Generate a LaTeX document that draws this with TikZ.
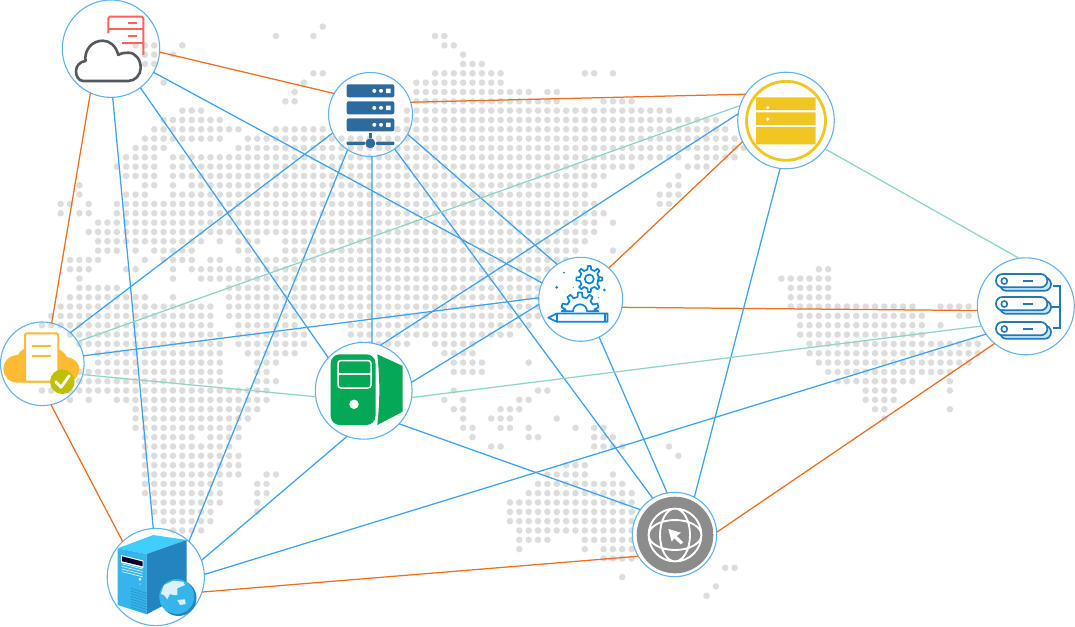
\documentclass[tikz,border=0pt]{standalone}
\definecolor{dotc}{HTML}{DDDDDD}
\definecolor{edgeblue}{HTML}{3DA2F2}
\definecolor{edgeorange}{HTML}{EE6E1E}
\definecolor{edgeteal}{HTML}{8ED5C8}
\definecolor{ringblue}{HTML}{62B2F2}
\definecolor{redicon}{HTML}{FF625A}
\definecolor{greyicon}{HTML}{54595E}
\definecolor{navyicon}{HTML}{2F6A9C}
\definecolor{gearblue}{HTML}{0B85D8}
\definecolor{yellowicon}{HTML}{F2C620}
\definecolor{diskblue}{HTML}{1F7AB8}
\definecolor{disklight}{HTML}{CFE6F7}
\definecolor{cloudyellow}{HTML}{FDBA33}
\definecolor{checkgreen}{HTML}{BFBF06}
\definecolor{servergreen}{HTML}{05A855}
\definecolor{topcyan}{HTML}{3ECFFF}
\definecolor{frontblue}{HTML}{35B5EC}
\definecolor{sideblue}{HTML}{2484BF}
\definecolor{globegrey}{HTML}{8C8C8C}
\tikzset{
  hub/.style={circle,draw=ringblue,line width=1.1pt,inner sep=0pt,outer sep=0pt},
  filledhub/.style={hub,fill=white},
  blueedge/.style={draw=edgeblue,line width=1.25pt},
  orangeedge/.style={draw=edgeorange,line width=1.25pt},
  tealedge/.style={draw=edgeteal,line width=1.25pt},
  gearline/.style={draw=gearblue,line width=1.7pt,line join=round},
  pill/.style={draw=diskblue,line width=1.7pt,rounded corners=6.5pt},
}
\newcommand\dotrow[2]{\foreach \a/\b in {#2}{\foreach \i in {\a,...,\b}{\fill[dotc] ({4.5+9.36*\i},{8+9.33*#1}) circle (3.3);}}}
\newcommand\gearfull[6]{% cx cy rin rout n start
  \draw[gearline] ({#1+#3*cos(#6-90/#5)},{#2+#3*sin(#6-90/#5)})
  \foreach \k [evaluate=\k as \t using #6+\k*360/#5] in {1,...,#5}{
    -- ({#1+#3*cos(\t-90/#5)},{#2+#3*sin(\t-90/#5)})
    -- ({#1+#4*cos(\t-54/#5)},{#2+#4*sin(\t-54/#5)})
    -- ({#1+#4*cos(\t+54/#5)},{#2+#4*sin(\t+54/#5)})
    -- ({#1+#3*cos(\t+90/#5)},{#2+#3*sin(\t+90/#5)})
  } -- cycle;}
\newcommand\diskrow[1]{%
  \draw[pill,fill=disklight] (1000,#1+3.5) rectangle (1051,#1+16.8);
  \draw[pill,fill=white] (996,#1) rectangle (1047.3,#1+13.3);
  \draw[diskblue,line width=1.6pt] (1004.3,#1+7) circle (3);
  \draw[diskblue,line width=1.8pt] (1022.7,#1+7) -- (1032.7,#1+7);}
\begin{document}
\begin{tikzpicture}[x=1pt,y=-1pt]
\useasboundingbox (0,0) rectangle (1075,626);
% dotted world map
\dotrow{2}{34/34}
\dotrow{3}{29/29,33/33,46/47}
\dotrow{4}{14/16,19/19,47/48}
\dotrow{5}{15/16,18/18,49/49}
\dotrow{6}{15/16,49/51}
\dotrow{7}{33/34,46/53,62/63,65/65}
\dotrow{8}{17/17,32/32,44/53}
\dotrow{9}{31/31,44/56,58/59}
\dotrow{10}{30/31,44/59,64/67}
\dotrow{11}{19/21,43/71}
\dotrow{12}{17/23,43/76}
\dotrow{13}{16/25,29/34,42/77}
\dotrow{14}{15/23,26/79}
\dotrow{15}{14/17,25/79}
\dotrow{16}{13/16,18/72,74/78}
\dotrow{17}{12/16,18/67,73/75}
\dotrow{18}{13/16,18/64,72/72}
\dotrow{19}{8/8,15/16,18/18,20/63,71/72}
\dotrow{20}{8/8,13/15,18/62,70/72}
\dotrow{21}{6/7,9/9,12/63,70/71}
\dotrow{22}{6/6,8/9,12/64}
\dotrow{23}{10/63,65/65}
\dotrow{24}{9/63}
\dotrow{25}{10/21,23/23,25/27,30/62}
\dotrow{26}{10/12,14/14,16/20,25/26,30/61,65/65}
\dotrow{27}{7/10,15/15,17/20,22/23,26/60}
\dotrow{28}{7/9,13/14,18/18,20/60,87/88}
\dotrow{29}{8/8,18/18,21/60,83/88}
\dotrow{30}{8/12,24/60,84/88}
\dotrow{31}{7/15,18/18,24/60,84/88}
\dotrow{32}{6/22,24/59,84/97,100/103}
\dotrow{33}{5/22,24/59,85/98,102/103}
\dotrow{34}{4/22,25/31,37/56,85/98,100/100}
\dotrow{35}{7/23,25/32,37/54,85/98}
\dotrow{36}{8/23,25/32,38/43,46/50,86/104}
\dotrow{37}{10/23,26/31,47/50,86/104}
\dotrow{38}{10/23,27/29,48/51,56/56,87/103}
\dotrow{39}{8/23,27/28,48/51,88/101}
\dotrow{40}{8/23,27/29,89/97,101/101}
\dotrow{41}{4/28,48/48,57/58,92/95,101/101}
\dotrow{42}{7/7,9/9,12/28,47/47,49/49,55/56,92/95}
\dotrow{43}{14/27,48/49,53/55,93/94,101/101}
\dotrow{44}{14/26,49/49,52/54,59/59,94/94}
\dotrow{45}{14/25,49/50,53/54,56/56,61/61,63/64}
\dotrow{46}{15/20,22/25,50/50,56/57,63/65}
\dotrow{47}{15/24,52/53,63/66,71/71}
\dotrow{48}{15/25,72/72}
\dotrow{49}{15/25,60/62}
\dotrow{50}{15/25,28/29,58/62,65/65}
\dotrow{51}{15/23,27/28,57/66}
\dotrow{52}{15/23,27/28,56/67}
\dotrow{53}{16/23,27/27,54/67}
\dotrow{54}{16/22,27/27,54/67}
\dotrow{55}{17/22,54/67}
\dotrow{56}{18/21,55/67}
\dotrow{57}{55/58,62/67}
\dotrow{58}{55/55,62/62,64/67}
\dotrow{59}{64/67}
\dotrow{60}{77/78}
\dotrow{61}{66/66}
\dotrow{62}{76/76}
\dotrow{63}{75/75}
% nodes
\node[hub,minimum size=97.4pt] (A) at (111,48.7) {};
\node[hub,minimum size=84pt] (B) at (370.5,114.5) {};
\node[filledhub,minimum size=84pt] (C) at (580.7,299.3) {};
\node[filledhub,minimum size=96.6pt] (D) at (786,120.5) {};
\node[hub,minimum size=97pt] (E) at (1025.8,306.3) {};
\node[hub,minimum size=83.6pt] (F) at (42.3,363.8) {};
\node[filledhub,minimum size=96.8pt] (G) at (363.7,390.8) {};
\node[hub,minimum size=97.2pt] (H) at (155.8,577) {};
\node[filledhub,minimum size=84.4pt] (I) at (674.5,534.5) {};
% connectors
\draw[orangeedge] (A.-4.7) -- (B.150.7);
\draw[orangeedge] (A.245.6) -- (F.77);
\draw[orangeedge] (F.-78.3) -- (H.133.8);
\draw[orangeedge] (B.17.3) -- (D.147);
\draw[orangeedge] (C.48.5) -- (D.206.2);
\draw[orangeedge] (C.-11.6) -- (E.185.5);
\draw[orangeedge] (E.230.9) -- (I.3.9);
\draw[orangeedge] (H.-18.5) -- (I.211);
\draw[blueedge] (A.-53.1) -- (G.137.9);
\draw[blueedge] (A.-88.8) -- (H.93);
\draw[blueedge] (A.-29.8) -- (C.157.5);
\draw[blueedge] (B.206.4) -- (F.48.2);
\draw[blueedge] (B.237.3) -- (H.47.2);
\draw[blueedge] (B.-88.4) -- (G.80.5);
\draw[blueedge] (B.-28) -- (C.124);
\draw[blueedge] (B.-55.9) -- (I.121.2);
\draw[blueedge] (F.11.6) -- (C.178.6);
\draw[blueedge] (G.10.6) -- (C.187.7);
\draw[blueedge] (G.70.7) -- (D.172.8);
\draw[blueedge] (G.-43.3) -- (I.144.8);
\draw[blueedge] (G.250.7) -- (H.20.8);
\draw[blueedge] (H.3.5) -- (E.215.8);
\draw[blueedge] (C.-64.9) -- (I.100.7);
\draw[blueedge] (D.263.9) -- (I.62.7);
\draw[tealedge] (F.-15.3) -- (G.187);
\draw[tealedge] (F.32) -- (D.162.5);
\draw[tealedge] (D.-36.8) -- (E.98.9);
\draw[tealedge] (G.-8.8) -- (E.204.9);
% icon A
\draw[redicon,line width=2pt,rounded corners=1.5pt] (108.3,33.5) -- (108.3,16.7) -- (143.3,16.7) -- (143.3,55);
\draw[redicon,line width=2pt] (108.3,29.3) -- (143.3,29.3) (121.7,42.7) -- (143.3,42.7) (128.3,23) -- (137.3,23) (128.3,36) -- (137.3,36);
\draw[greyicon,line width=2.6pt,line join=round] (83.3,81) .. controls (78.5,81) and (76,76) .. (76,71) .. controls (76,66) and (80,61.5) .. (85.5,61) .. controls (84,50) and (92,40.7) .. (102.7,40.7) .. controls (110,40.7) and (116,46) .. (118.3,55) .. controls (121,53) and (125,52.7) .. (128.3,52.7) .. controls (136,52.7) and (140.7,60) .. (140.7,68) .. controls (140.7,75) and (135,81) .. (128.3,81) -- cycle;
% icon B
\foreach \y in {84.3,101.3,118.3}{
  \fill[navyicon,rounded corners=2pt] (346.7,\y) rectangle (394.3,\y+13);
  \fill[white] (374.3,\y+6.5) circle (2) (381,\y+6.5) circle (2) (386,\y+4.2) rectangle (390.7,\y+8.8);
}
\fill[navyicon] (368.5,133) rectangle (372.2,138);
\fill[navyicon,rounded corners=1pt] (346.7,141.5) rectangle (365,145.2) (376,141.5) rectangle (394.3,145.2);
\fill[navyicon] (370.3,143.3) circle (5);
% icon C
\gearfull{589.3}{279}{9.6}{13}{8}{0}
\draw[gearblue,line width=1.7pt] (589.3,279) circle (4.5);
\draw[gearline] (561.7,311.3)
  \foreach \k [evaluate=\k as \t using 198+\k*36] in {0,...,4}{
    -- ({580+14.5*cos(\t-10)},{311.3+14.5*sin(\t-10)})
    -- ({580+19*cos(\t-6)},{311.3+19*sin(\t-6)})
    -- ({580+19*cos(\t+6)},{311.3+19*sin(\t+6)})
    -- ({580+14.5*cos(\t+10)},{311.3+14.5*sin(\t+10)})
  } -- (598.3,311.3) -- (587,311.3) arc (0:-180:7) -- cycle;
\fill[gearblue] (564,272.7) circle (1) (556.7,287.3) circle (1.5) (604.3,290) circle (1.5) (598.3,297.7) circle (.6) (573.3,287.7) circle (.6);
\draw[gearline,fill=white] (548.3,317.7) -- (556.7,313.5) -- (607.5,313.5) -- (607.5,321.7) -- (556.7,321.7) -- cycle;
\draw[gearblue,line width=1.7pt] (556.7,313.5) -- (556.7,321.7) (605,313.5) -- (605,321.7);
% icon D
\draw[yellowicon,line width=2.8pt] (786,120.8) circle (39.5);
\fill[yellowicon] (756,97.3) rectangle (815.7,110) (756,112.3) rectangle (815.7,125) (756,127) rectangle (815.7,144.3);
\fill[white] (767.7,107.7) circle (1.8) (767.7,119) circle (1.8);
% icon E
\diskrow{274}
\diskrow{297}
\diskrow{322}
\draw[diskblue,line width=1.7pt] (1052.7,286) -- (1060,286) -- (1060,328.3) -- (1052.7,328.3) (1052,307.3) -- (1060,307.3);
% icon F
\fill[cloudyellow] (18,382.7) .. controls (9,382.7) and (3.3,376) .. (3.3,369) .. controls (3.3,361) and (10,355) .. (18,355) .. controls (20,350) and (25,348) .. (30,348) -- (55,348) .. controls (60,349) and (64,352) .. (67,357) .. controls (74,358) and (79.3,363) .. (79.3,369) .. controls (79.3,376) and (74,382.7) .. (66,382.7) -- cycle;
\draw[cloudyellow,fill=white,line width=2pt,rounded corners=2pt] (25,333.3) rectangle (58.3,381.7);
\draw[cloudyellow,line width=2pt] (32.3,345.7) -- (50.7,345.7) (32.3,355.7) -- (50.7,355.7);
\fill[checkgreen] (62.3,381.7) circle (12.3);
\draw[white,line width=2.8pt,line cap=round,line join=round] (55.7,381.7) -- (61,387.3) -- (69.3,375.7);
% icon G
\fill[servergreen,rounded corners=9pt] (330.7,354.3) rectangle (375.5,425);
\fill[servergreen] (377.3,354.3) -- (402.7,366) -- (402.7,411.7) -- (377.3,425) .. controls (380,400) and (380,380) .. cycle;
\draw[white,line width=1.5pt,rounded corners=3pt] (338,360.5) rectangle (371,388);
\draw[white,line width=1.5pt] (338,374) -- (371,374);
\fill[white] (354,404.3) circle (4.7);
% icon H
\fill[topcyan] (117.7,548.3) -- (153.3,535) -- (186.7,540) -- (146.7,554) -- cycle;
\fill[frontblue] (117.7,548.3) -- (146.7,554) -- (146.7,614.3) -- (117.7,605) -- cycle;
\fill[sideblue] (146.7,554) -- (186.7,540) -- (186.7,593) -- (146.7,614.3) -- cycle;
\fill[white] (121,555) -- (143.3,560.5) -- (143.3,568) -- (121,562.5) -- cycle;
\fill[black!80!blue] (122,556.3) -- (142.5,561.5) -- (142.5,566.3) -- (122,561.2) -- cycle;
\foreach \d in {0,2.6,5.2,7.8}{\draw[white!80!frontblue,line width=.7pt] (121.7,563.8+\d) -- (142.7,569+\d);}
\fill[white] (140,579.3) circle (1.6) (140,584) circle (.7);
\foreach \d in {0,2.7,...,19}{\draw[sideblue!70!frontblue,line width=.7pt] (131,588.3+\d) -- (146.7,593.3+\d);}
\fill[sideblue] (178.5,598) circle (18);
\fill[frontblue] (176.7,596.5) circle (17.5);
\fill[white!82!frontblue] (164,585) -- (173.3,580.7) -- (183.3,581.7) -- (185,585) -- (177.3,588.3) -- (177.3,595) -- (173.3,595) -- (170,594) -- (167.3,599.3) -- (164,595) -- (160.7,594) -- cycle;
\fill[white!82!frontblue] (177.3,600) -- (185,599.3) -- (185.7,604) -- (180,605) -- cycle;
% icon I
\fill[globegrey] (675,535) circle (38.3);
\draw[white,line width=1.9pt] (675,535) circle (26.4) (675,535) ellipse (15 and 26.4) (675,535) ellipse (26.4 and 15);
\fill[white] (668.3,529) -- (681,532.7) -- (676.7,536) -- (683.3,542.3) -- (680.7,544.3) -- (674.3,538.3) -- (671.7,541.7) -- cycle;
\end{tikzpicture}
\end{document}
